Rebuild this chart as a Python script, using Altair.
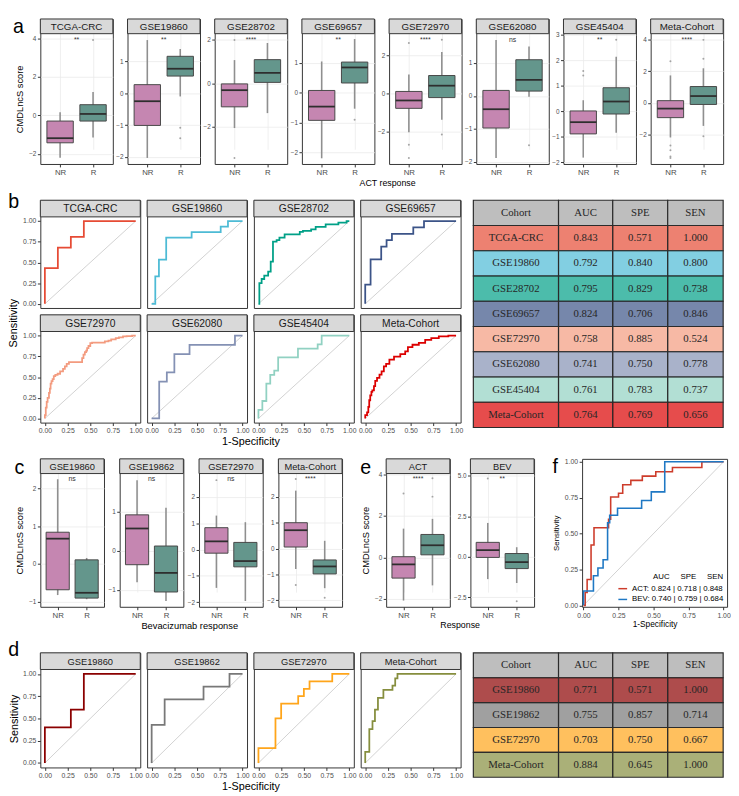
import altair as alt
import pandas as pd

SANS = "Liberation Sans"
SERIF = "Liberation Serif"
DARK = "#333333"
STRIP_FILL = "#D9D9D9"
GRID = "#EBEBEB"
LABEL = "#4D4D4D"
PINK = "#C586B1"
TEAL = "#64968C"
GROUPS = ["NR", "R"]
ROC_TICKS = [0, 0.25, 0.5, 0.75, 1.0]
DIAG = [0, 1]
NBSP = "\u00a0"

# ---------------- panel a (ACT response boxplots) : [lo, q1, median, q3, hi]
A_COHORTS = ["TCGA-CRC", "GSE19860", "GSE28702", "GSE69657", "GSE72970", "GSE62080", "GSE45404", "Meta-Cohort"]
A_SIG = ["**", "**", "****", "**", "****", "ns", "**", "****"]
A_NR = [[-2.2, -1.42, -1.18, -0.29, 0.17], [-2.03, -1.01, -0.25, 0.27, 1.67], [-2.07, -1.09, -0.32, -0.03, 1.07],
        [-2.2, -0.93, -0.47, 0.07, 1.04], [-2.01, -0.77, -0.36, 0.11, 0.99], [-1.88, -0.97, -0.4, 0.17, 1.7],
        [-1.82, -0.89, -0.43, 0.01, 0.43], [-2.18, -0.93, -0.36, 0.14, 1.73]]
A_R = [[-1.14, -0.29, 0.08, 0.56, 1.22], [-0.1, 0.54, 0.77, 1.16, 1.39], [-1.38, 0.04, 0.48, 1.09, 1.86],
       [-0.54, 0.32, 0.84, 1.02, 1.79], [-1.36, -0.21, 0.41, 0.94, 2.16], [-0.02, 0.15, 0.49, 1.1, 1.5],
       [-0.85, -0.11, 0.38, 0.92, 2.14], [-1.45, -0.1, 0.43, 1.03, 2.18]]
A_NR_OUT = [[], [], [2.0, -3.45], [], [2.63, -2.67, -3.36], [], [1.58, 1.4], [2.62, -2.68, -2.98, -3.38, -3.47]]
A_R_OUT = [[3.92], [-1.08, -1.41], [], [-0.91], [2.8, -2.13], [-1.49], [2.8], [2.78, 3.97, -2.1]]
A_YDOM = [[-2.52, 4.25], [-2.22, 1.87], [-3.73, 2.29], [-2.39, 1.97], [-3.67, 3.12], [-2.06, 1.89], [-2.07, 3.04], [-3.85, 4.36]]
A_YTICKS = [[-2, 0, 2, 4], [-2, -1, 0, 1], [-2, 0, 2], [-2, -1, 0, 1], [-2, 0, 2], [-2, -1, 0, 1], [-2, -1, 0, 1, 2, 3], [-2, 0, 2, 4]]

# ---------------- panel c (Bevacizumab response boxplots)
C_COHORTS = ["GSE19860", "GSE19862", "GSE72970", "Meta-Cohort"]
C_SIG = ["ns", "ns", "ns", "****"]
C_NR = [[-0.82, -0.68, 0.67, 0.84, 2.24], [-0.81, -0.36, 0.57, 0.92, 1.81], [-1.46, -0.14, 0.31, 0.83, 1.29], [-0.79, 0.06, 0.71, 1.0, 2.24]]
C_R = [[-0.93, -0.9, -0.76, 0.11, 0.16], [-1.29, -1.06, -0.57, 0.12, 1.1], [-1.96, -0.66, -0.44, 0.27, 1.04], [-1.53, -0.98, -0.69, -0.44, 0.3]]
C_NR_OUT = [[], [], [2.64], [2.69, -1.41]]
C_R_OUT = [[], [], [], [-1.9]]
C_YDOM = [[-1.13, 2.39], [-1.44, 1.98], [-2.18, 2.89], [-2.25, 2.9]]
C_YTICKS = [[-1, 0, 1, 2], [-1, 0, 1], [-2, -1, 0, 1, 2], [-2, -1, 0, 1, 2]]

# ---------------- panel e
E_COHORTS = ["ACT", "BEV"]
E_SIG = ["****", "**"]
E_NR = [[-2.08, -1.0, -0.34, 0.03, 1.38], [-1.38, -0.04, 0.41, 0.89, 2.09]]
E_R = [[-1.35, 0.12, 0.58, 1.1, 1.85], [-1.62, -0.73, -0.33, 0.2, 0.59]]
E_NR_OUT = [[3.07], [4.84]]
E_R_OUT = [[3.8, 2.92], [-2.75]]
E_YDOM = [[-2.38, 4.03], [-3.09, 5.14]]
E_YTICKS = [[-2, 0, 2, 4], [-2.5, 0, 2.5, 5.0]]

# ---------------- panel b (ROC, ACT cohorts) step points
B_COHORTS = A_COHORTS
B_COLORS = ["#E64B35", "#4DBBD5", "#00A087", "#3C5488", "#F39B7F", "#8491B4", "#91D1C2", "#DC0000"]
B_FPR = [
    [0, 0.143, 0.286, 0.429, 1],
    [0, 0.04, 0.08, 0.16, 0.44, 0.76, 0.84, 1],
    [0, 0.01, 0.035, 0.064, 0.107, 0.135, 0.16, 0.2, 0.231, 0.288, 0.455, 0.49, 0.58, 0.63, 0.74, 0.88, 0.97, 1],
    [0, 0.059, 0.176, 0.235, 0.294, 0.529, 0.647, 1],
    [0, 0.01, 0.02, 0.03, 0.045, 0.055, 0.063, 0.073, 0.085, 0.098, 0.115, 0.14, 0.168, 0.2, 0.22, 0.24, 0.265, 0.29,
     0.41, 0.425, 0.44, 0.455, 0.465, 0.48, 0.5, 0.52, 0.66, 0.7, 0.73, 0.78, 0.815, 0.86, 0.9, 0.96, 1],
    [0, 0.083, 0.167, 0.25, 0.417, 0.917, 1],
    [0, 0.043, 0.087, 0.13, 0.174, 0.217, 0.435, 0.652, 0.696, 1],
    [0, 0.02, 0.034, 0.044, 0.055, 0.068, 0.078, 0.096, 0.11, 0.13, 0.157, 0.18, 0.205, 0.23, 0.266, 0.317, 0.386,
     0.44, 0.47, 0.52, 0.59, 0.66, 0.727, 0.81, 0.915, 1],
]
B_TPR = [
    [0, 0.43, 0.68, 0.81, 1],
    [0, 0, 0.333, 0.533, 0.8, 0.867, 0.933, 1],
    [0, 0, 0.25, 0.3, 0.34, 0.39, 0.51, 0.75, 0.77, 0.8, 0.84, 0.87, 0.88, 0.9, 0.93, 0.96, 0.98, 1],
    [0, 0.231, 0.538, 0.692, 0.769, 0.846, 0.923, 1],
    [0, 0.04, 0.13, 0.2, 0.25, 0.31, 0.36, 0.42, 0.45, 0.475, 0.51, 0.525, 0.54, 0.57, 0.6, 0.63, 0.66, 0.68,
     0.68, 0.73, 0.77, 0.8, 0.82, 0.85, 0.875, 0.91, 0.915, 0.93, 0.94, 0.955, 0.97, 0.98, 0.99, 0.995, 1],
    [0, 0, 0.444, 0.556, 0.778, 0.889, 1],
    [0, 0.105, 0.211, 0.421, 0.526, 0.579, 0.737, 0.842, 0.895, 1],
    [0, 0.04, 0.075, 0.14, 0.22, 0.28, 0.32, 0.34, 0.39, 0.455, 0.49, 0.53, 0.57, 0.63, 0.66, 0.71, 0.746,
     0.776, 0.81, 0.86, 0.89, 0.914, 0.95, 0.97, 0.99, 1],
]
B_AUC = [0.843, 0.792, 0.795, 0.824, 0.758, 0.741, 0.761, 0.764]
B_SPE = [0.571, 0.840, 0.829, 0.706, 0.885, 0.750, 0.783, 0.769]
B_SEN = [1.000, 0.800, 0.738, 0.846, 0.524, 0.778, 0.737, 0.656]

# ---------------- panel d (ROC, bevacizumab cohorts)
D_COHORTS = C_COHORTS
D_COLORS = ["#8B0000", "#787878", "#FFA51A", "#868E3E"]
D_FPR = [[0, 0.286, 0.429, 1], [0, 0.143, 0.571, 0.857, 1], [0, 0.1875, 0.25, 0.4375, 0.5, 0.5625, 0.8125, 1],
         [0, 0.045, 0.08, 0.107, 0.14, 0.2, 0.3, 0.33, 0.355, 1]]
D_TPR = [[0, 0.4, 0.6, 1], [0, 0.429, 0.714, 0.857, 1], [0, 0.167, 0.5, 0.667, 0.75, 0.833, 0.917, 1],
         [0, 0.125, 0.38, 0.47, 0.6, 0.73, 0.82, 0.87, 0.95, 1]]
D_AUC = [0.771, 0.755, 0.703, 0.884]
D_SPE = [0.571, 0.857, 0.750, 0.645]
D_SEN = [1.000, 0.714, 0.667, 1.000]

# ---------------- panel f
F_NAMES = ["ACT", "BEV"]
F_COLORS = ["#CD3C2B", "#1F78C4"]
F_FPR = [[0, 0.012, 0.026, 0.054, 0.075, 0.179, 0.194, 0.25, 0.28, 0.338, 0.42, 0.516, 0.635, 0.845, 1],
         [0, 0.071, 0.103, 0.14, 0.172, 0.187, 0.243, 0.415, 0.484, 0.58, 1]]
F_TPR = [[0, 0, 0.09, 0.18, 0.42, 0.54, 0.6, 0.754, 0.78, 0.84, 0.87, 0.9, 0.93, 0.96, 1],
         [0, 0.1, 0.206, 0.26, 0.318, 0.575, 0.627, 0.676, 0.73, 0.79, 1]]
F_AUC = [0.824, 0.740]
F_SPE = [0.718, 0.759]
F_SEN = [0.848, 0.684]
F_HEADER = ["AUC", "SPE", "SEN"]

TABLE_HEADER = ["Cohort", "AUC", "SPE", "SEN"]
TABLE_COLS = [0, 0.341, 0.558, 0.778, 1.0]


def strip_layers(name, W, h, fs):
    d = pd.DataFrame({"t": [name]})
    rect = alt.Chart(d).mark_rect(fill=STRIP_FILL, stroke=DARK, strokeWidth=1).encode(
        x=alt.value(0), x2=alt.value(W), y=alt.value(0), y2=alt.value(h))
    txt = alt.Chart(d).mark_text(font=SANS, fontSize=fs, color="#1A1A1A", baseline="middle").encode(
        text="t:N", x=alt.value(W / 2), y=alt.value(h / 2 + 0.5))
    return [rect, txt]


def box_panel(name, sig, nr, r, nr_out, r_out, ydom, yticks, W, H, sh, sfs,
              ytitle=None, xtitle=None, xtitle_x=0, yfmt=None, xt_fs=9, yt_fs=9.5, tag=None):
    stats = pd.DataFrame({
        "grp": GROUPS, "pos": [1, 2],
        "lo": [nr[0], r[0]], "q1": [nr[1], r[1]], "med": [nr[2], r[2]],
        "q3": [nr[3], r[3]], "hi": [nr[4], r[4]]})
    stats["x0"] = stats["pos"] - 0.4
    stats["x1"] = stats["pos"] + 0.4
    xs = alt.Scale(domain=[0.4, 2.6], nice=False, zero=False)
    ys = alt.Scale(domain=ydom, range=[H + sh, sh], nice=False, zero=False)
    xa = dict(values=[1, 2], labelExpr="datum.value == 1 ? 'NR' : 'R'", grid=True,
              labelFontSize=8, labelColor=LABEL, tickSize=3, labelFlush=False, labelPadding=1.5)
    if xtitle:
        xa.update(title=xtitle, titleFontSize=xt_fs, titleX=xtitle_x, titlePadding=2)
    else:
        xa["title"] = None
    ya = dict(values=yticks, grid=True, labelFontSize=6.5, labelColor=LABEL, tickSize=3, labelPadding=1.5)
    if yfmt:
        ya["format"] = yfmt
    if ytitle:
        ya.update(title=ytitle, titleFontSize=yt_fs, titlePadding=4, titleY=sh + H / 2)
    else:
        ya["title"] = None

    def X(f):
        return alt.X(f, type="quantitative", scale=xs, axis=alt.Axis(**xa))

    def Y(f):
        return alt.Y(f, type="quantitative", scale=ys, axis=alt.Axis(**ya))

    base = alt.Chart(stats)
    whisk = base.mark_rule(color="#8F8F8F", strokeWidth=1.6).encode(x=X("pos"), y=Y("lo"), y2="hi:Q")
    box = base.mark_rect(stroke="#474747", strokeWidth=1).encode(
        x=X("x0"), x2="x1:Q", y=Y("q1"), y2="q3:Q",
        fill=alt.Fill("grp:N", scale=alt.Scale(domain=GROUPS, range=[PINK, TEAL]), legend=None))
    med = base.mark_rule(color="#2E2E2E", strokeWidth=1.8).encode(x=X("x0"), x2="x1:Q", y=Y("med"))
    layers = [whisk, box, med]
    ov = list(nr_out) + list(r_out)
    if ov:
        od = pd.DataFrame({"pos": [1] * len(nr_out) + [2] * len(r_out), "v": ov})
        layers.append(alt.Chart(od).mark_circle(size=4, color="#9A9A9A", opacity=0.9).encode(x=X("pos"), y=Y("v")))
    sd = pd.DataFrame({"s": [sig]})
    layers.append(alt.Chart(sd).mark_text(font=SANS, fontSize=7, baseline="top", color="#333333").encode(
        text="s:N", x=alt.value(W / 2), y=alt.value(sh + 2)))
    layers += strip_layers(name, W, sh, sfs)
    if tag:
        td = pd.DataFrame({"t": [tag]})
        layers.append(alt.Chart(td).mark_text(font=SANS, fontSize=20, color="#000000", align="left",
                                              baseline="top").encode(
            text="t:N", x=alt.value(-28), y=alt.value(-2)))
    return alt.layer(*layers).properties(width=W, height=H + sh)


def roc_panel(name, fpr, tpr, color, W, H, sh, sfs, show_x, show_y,
              ytitle=None, xtitle=None, xtitle_x=0, title_fs=11):
    df = pd.DataFrame({"fpr": fpr, "tpr": tpr, "i": list(range(len(fpr)))})
    xsc = alt.Scale(domain=[-0.05, 1.05], nice=False, zero=False)
    ysc = alt.Scale(domain=[-0.05, 1.05], range=[H + sh, sh], nice=False, zero=False)
    xa = dict(values=ROC_TICKS, format=".2f", labels=show_x, ticks=show_x, grid=False,
              labelFontSize=7, labelColor=LABEL, tickSize=3, labelFlush=False, labelPadding=1.5)
    if xtitle:
        xa.update(title=xtitle, titleFontSize=title_fs, titleX=xtitle_x, titlePadding=2)
    else:
        xa["title"] = None
    ya = dict(values=ROC_TICKS, format=".2f", labels=show_y, ticks=show_y, grid=False,
              labelFontSize=7, labelColor=LABEL, tickSize=3, labelPadding=1.5)
    if ytitle:
        ya.update(title=ytitle, titleFontSize=title_fs, titlePadding=3, titleY=sh + H / 2)
    else:
        ya["title"] = None

    def X(f):
        return alt.X(f, type="quantitative", scale=xsc, axis=alt.Axis(**xa))

    def Y(f):
        return alt.Y(f, type="quantitative", scale=ysc, axis=alt.Axis(**ya))

    dd = pd.DataFrame({"a": [DIAG[0]], "b": [DIAG[1]]})
    diag = alt.Chart(dd).mark_rule(color="#BDBDBD", strokeWidth=0.7).encode(x=X("a"), y=Y("a"), x2="b:Q", y2="b:Q")
    line = alt.Chart(df).mark_line(interpolate="step-before", color=color, strokeWidth=1.8).encode(
        x=X("fpr"), y=Y("tpr"), order="i:Q")
    layers = [diag, line] + strip_layers(name, W, sh, sfs)
    return alt.layer(*layers).properties(width=W, height=H + sh)


def table_chart(names, auc, spe, sen, colors, W, H, fs=11):
    rows = []
    for c in range(4):
        rows.append(dict(r0=0, r1=1, c0=TABLE_COLS[c], c1=TABLE_COLS[c + 1], txt=TABLE_HEADER[c], fill="#BEBEBE", op=1.0))
    for i, n in enumerate(names):
        vals = [n, f"{auc[i]:.3f}", f"{spe[i]:.3f}", f"{sen[i]:.3f}"]
        for c in range(4):
            rows.append(dict(r0=i + 1, r1=i + 2, c0=TABLE_COLS[c], c1=TABLE_COLS[c + 1], txt=vals[c], fill=colors[i], op=0.7))
    df = pd.DataFrame(rows)
    df["xm"] = (df["c0"] + df["c1"]) / 2
    df["ym"] = (df["r0"] + df["r1"]) / 2
    n = len(names) + 1
    xs = alt.Scale(domain=[0, 1], nice=False, zero=False)
    ys = alt.Scale(domain=[n, 0], nice=False, zero=False)
    rect = alt.Chart(df).mark_rect(stroke="#2B2B2B", strokeWidth=1.2).encode(
        x=alt.X("c0:Q", scale=xs, axis=None), x2="c1:Q",
        y=alt.Y("r0:Q", scale=ys, axis=None), y2="r1:Q",
        fill=alt.Fill("fill:N", scale=None), fillOpacity=alt.FillOpacity("op:Q", scale=None))
    txt = alt.Chart(df).mark_text(font=SERIF, fontSize=fs, color="#262626", baseline="middle").encode(
        x=alt.X("xm:Q", scale=xs, axis=None), y=alt.Y("ym:Q", scale=ys, axis=None), text="txt:N")
    return alt.layer(rect, txt).properties(width=W, height=H, view=alt.ViewBackground(stroke="transparent"))


def f_chart(W, H):
    labels = [f"{n}: {a:.3f} | {s:.3f} | {e:.3f}" for n, a, s, e in zip(F_NAMES, F_AUC, F_SPE, F_SEN)]
    rows = []
    for k in range(len(F_NAMES)):
        for i, (x, y) in enumerate(zip(F_FPR[k], F_TPR[k])):
            rows.append({"fpr": x, "tpr": y, "i": i, "lab": labels[k]})
    df = pd.DataFrame(rows)
    xs = alt.Scale(domain=[-0.01, 1.025], nice=False, zero=False)
    ys = alt.Scale(domain=[-0.01, 1.02], nice=False, zero=False)
    xa = alt.Axis(values=ROC_TICKS, format=".2f", grid=False, labelFontSize=7, labelColor=LABEL, tickSize=3,
                  labelFlush=False, labelPadding=1.5, title="1-Specificity", titleFontSize=8.5, titlePadding=2)
    ya = alt.Axis(values=ROC_TICKS, format=".2f", grid=False, labelFontSize=7, labelColor=LABEL, tickSize=3,
                  labelPadding=1.5, title="Sensitivity", titleFontSize=8, titlePadding=4)
    dd = pd.DataFrame({"a": [DIAG[0]], "b": [DIAG[1]]})
    diag = alt.Chart(dd).mark_rule(color="#BDBDBD", strokeWidth=0.7).encode(
        x=alt.X("a:Q", scale=xs, axis=xa), y=alt.Y("a:Q", scale=ys, axis=ya), x2="b:Q", y2="b:Q")
    head = (NBSP * 5).join(F_HEADER)
    lines = alt.Chart(df).mark_line(interpolate="step-before", strokeWidth=1.6).encode(
        x=alt.X("fpr:Q", scale=xs, axis=xa), y=alt.Y("tpr:Q", scale=ys, axis=ya),
        color=alt.Color("lab:N", scale=alt.Scale(domain=labels, range=F_COLORS),
                        legend=alt.Legend(title=head, orient="bottom-right", titleAnchor="end",
                                          titleFontSize=8, titleFontWeight="normal", titleColor="#000000",
                                          labelFontSize=8, labelColor="#000000", symbolType="stroke",
                                          symbolStrokeWidth=1.5, symbolSize=80, rowPadding=1, offset=3,
                                          padding=0, titlePadding=2, labelLimit=300)),
        order="i:Q")
    return alt.layer(diag, lines).properties(width=W, height=H)


def letter(t, off):
    return alt.Title(t, anchor="start", orient="top", fontSize=20, fontWeight="normal", font=SANS, offset=off, color="#000000")


# ---------------- row a
AW, AH, AS = 74, 133, 15
a_panels = []
for i in range(8):
    a_panels.append(box_panel(A_COHORTS[i], A_SIG[i], A_NR[i], A_R[i], A_NR_OUT[i], A_R_OUT[i], A_YDOM[i], A_YTICKS[i],
                              AW, AH, 15, 10,
                              ytitle="CMDLncS score" if i == 0 else None,
                              xtitle="ACT response" if i == 4 else None, xtitle_x=-2, xt_fs=9,
                              tag="a" if i == 0 else None))
rowA = alt.hconcat(*a_panels, spacing=AS, bounds="flush")

# ---------------- row b
RW, RH, RS = 102, 93, 7
r1 = alt.hconcat(*[roc_panel(B_COHORTS[i], B_FPR[i], B_TPR[i], B_COLORS[i], RW, RH, 17, 10.5, False, i == 0)
                   for i in range(4)], spacing=RS, bounds="flush")
r2 = alt.hconcat(*[roc_panel(B_COHORTS[i], B_FPR[i], B_TPR[i], B_COLORS[i], RW, RH, 17, 10.5, True, i == 4,
                             xtitle="1-Specificity" if i == 5 else None, xtitle_x=(4 * RW + 3 * RS) / 2 - (RW + RS))
                   for i in range(4, 8)], spacing=RS, bounds="flush")
gridB = alt.vconcat(r1, r2, spacing=5,
                    title=alt.Title("Sensitivity", orient="left", anchor="middle", fontSize=11, fontWeight="normal",
                                    font=SANS, offset=3, color="#000000"))
tableB = table_chart(B_COHORTS, B_AUC, B_SPE, B_SEN, B_COLORS, 255, 232)
rowB = alt.hconcat(gridB, tableB, spacing=8, title=letter("b", -13))

# ---------------- row c / e / f
CW, CH = 65, 136
c_panels = []
for i in range(4):
    c_panels.append(box_panel(C_COHORTS[i], C_SIG[i], C_NR[i], C_R[i], C_NR_OUT[i], C_R_OUT[i], C_YDOM[i], C_YTICKS[i],
                              CW, CH, 15, 9.5,
                              ytitle="CMDLncS score" if i == 0 else None,
                              xtitle="Bevacizumab response" if i == 1 else None, xtitle_x=71, xt_fs=9.5))
cgrp = alt.hconcat(*c_panels, spacing=16, bounds="flush", title=letter("c", -20))
e_panels = []
for i in range(2):
    e_panels.append(box_panel(E_COHORTS[i], E_SIG[i], E_NR[i], E_R[i], E_NR_OUT[i], E_R_OUT[i], E_YDOM[i], E_YTICKS[i],
                              CW, CH, 15, 9.5,
                              ytitle="CMDLncS score" if i == 0 else None,
                              xtitle="Response" if i == 0 else None, xtitle_x=75, xt_fs=9,
                              yfmt=".1f" if i == 1 else None))
egrp = alt.hconcat(*e_panels, spacing=21, bounds="flush", title=letter("e", -20))
fch = f_chart(148, 151).properties(title=letter("f", -20))
rowC = alt.hconcat(cgrp, egrp, fch, spacing=17).resolve_scale(color="independent", fill="independent").resolve_legend(color="independent")

# ---------------- row d
DH = 100
d_panels = [roc_panel(D_COHORTS[i], D_FPR[i], D_TPR[i], D_COLORS[i], RW, DH, 17, 9.5, True, i == 0,
                      ytitle="Sensitivity" if i == 0 else None,
                      xtitle="1-Specificity" if i == 1 else None, xtitle_x=(4 * RW + 3 * RS) / 2 - (RW + RS))
            for i in range(4)]
rocD = alt.hconcat(*d_panels, spacing=RS, bounds="flush")
tableD = table_chart(D_COHORTS, D_AUC, D_SPE, D_SEN, D_COLORS, 255, 127)
rowD = alt.hconcat(rocD, tableD, spacing=8, title=letter("d", -8))

lower = alt.vconcat(rowC, rowD, spacing=8).resolve_scale(color="independent").resolve_legend(color="independent")
top = alt.vconcat(alt.vconcat(rowA, rowB, spacing=4), lower, spacing=10).resolve_scale(
    color="independent").resolve_legend(color="independent")

chart = (top.properties(padding=0)
         .configure(font=SANS)
         .configure_view(stroke=DARK, strokeWidth=1)
         .configure_axis(domain=False, labelFont=SANS, titleFont=SANS, tickColor=DARK, gridColor=GRID,
                         gridWidth=0.8, titleFontWeight="normal", titleColor="#000000")
         .configure_title(font=SANS, fontWeight="normal", color="#000000"))

chart.save("out.html", embed_options={"renderer": "svg", "actions": False})
